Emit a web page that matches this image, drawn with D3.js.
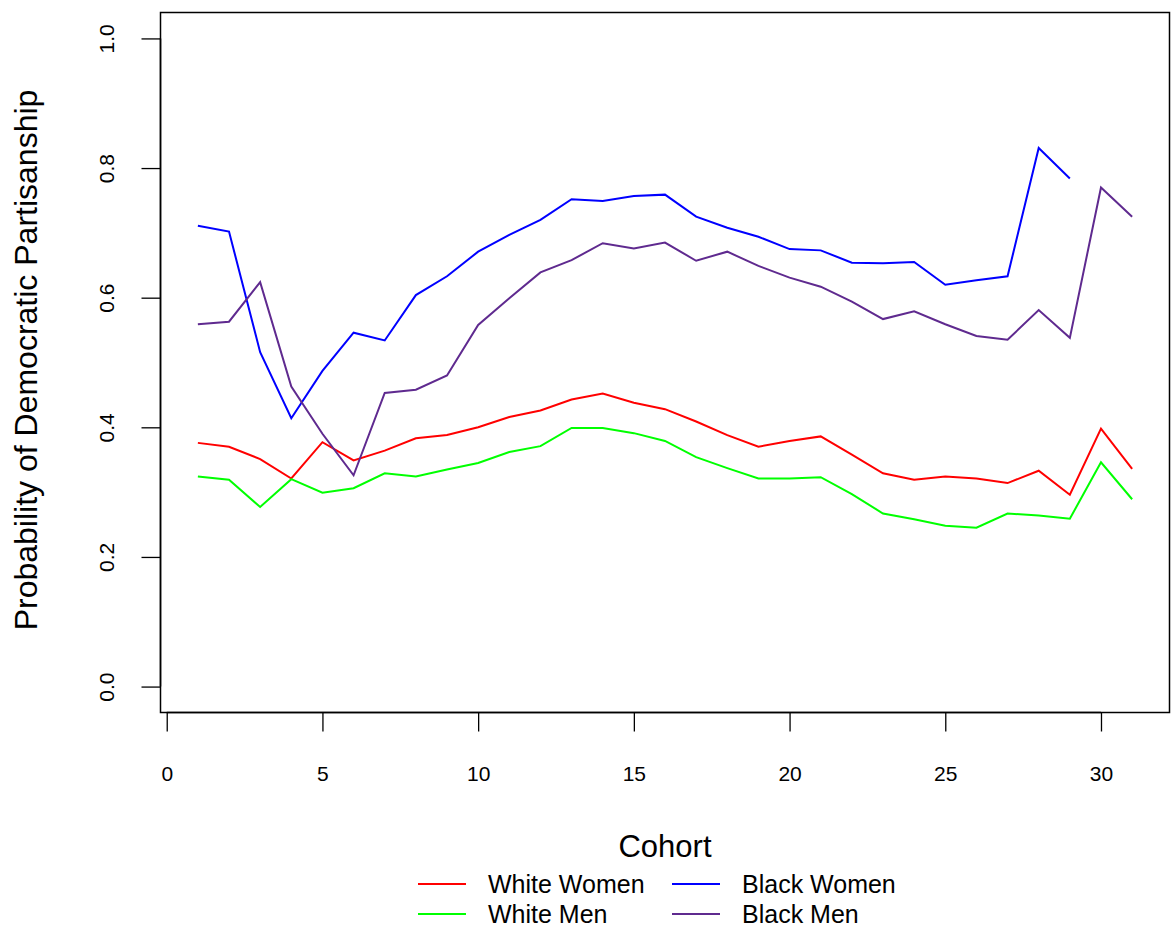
<!DOCTYPE html>
<meta charset="utf-8">
<style>
body { margin: 0; background: #fff; }
text { font-family: "Liberation Sans", Arial, sans-serif; fill: #000; }
.series { fill: none; stroke-width: 2px; stroke-linejoin: miter; }
</style>
<svg width="1176" height="933"></svg>
<script src="https://d3js.org/d3.v7.min.js"></script>
<script>
var cohorts = d3.range(1, 32);
var whiteWomen = [0.376, 0.370, 0.351, 0.321, 0.377, 0.349, 0.364, 0.383, 0.388, 0.400,
  0.416, 0.426, 0.443, 0.452, 0.438, 0.428, 0.409, 0.388, 0.370, 0.379,
  0.386, 0.358, 0.329, 0.319, 0.324, 0.321, 0.314, 0.333, 0.296, 0.398, 0.336];
var whiteMen = [0.324, 0.319, 0.277, 0.320, 0.299, 0.306, 0.329, 0.324, 0.335, 0.345,
  0.362, 0.371, 0.399, 0.399, 0.391, 0.379, 0.354, 0.337, 0.321, 0.321,
  0.323, 0.297, 0.267, 0.258, 0.248, 0.245, 0.267, 0.264, 0.259, 0.346, 0.289];
var blackWomen = [0.711, 0.702, 0.516, 0.414, 0.487, 0.546, 0.534, 0.604, 0.633, 0.671,
  0.697, 0.720, 0.752, 0.749, 0.757, 0.759, 0.725, 0.708, 0.694, 0.675,
  0.673, 0.654, 0.653, 0.655, 0.620, 0.627, 0.633, 0.831, 0.784, null, null];
var blackMen = [0.559, 0.563, 0.624, 0.463, 0.390, 0.326, 0.453, 0.458, 0.480, 0.558,
  0.599, 0.639, 0.658, 0.684, 0.676, 0.685, 0.657, 0.671, 0.649, 0.631,
  0.617, 0.594, 0.567, 0.579, 0.559, 0.541, 0.535, 0.581, 0.538, 0.770, 0.725];
var seriesNames = ["White Women", "White Men", "Black Women", "Black Men"];
var seriesColors = ["#ff0000", "#00ff00", "#0000ff", "#5f2a8f"];
var xTicks = [0, 5, 10, 15, 20, 25, 30];
var yTicks = [0, 0.2, 0.4, 0.6, 0.8, 1.0];

var svg = d3.select("svg");
var plotLeft = 160.5, plotRight = 1169.5, plotTop = 12.5, plotBottom = 712.5;

// R style: 4% padding round the data range
var x = d3.scaleLinear().domain([1 - 1.2, 31 + 1.2]).range([plotLeft, plotRight]);
var y = d3.scaleLinear().domain([0 - 0.04, 1 + 0.04]).range([plotBottom, plotTop]);

var all = [whiteWomen, whiteMen, blackWomen, blackMen];

var line = d3.line()
    .defined(function(d) { return d != null; })
    .x(function(d, i) { return x(cohorts[i]); })
    .y(function(d) { return y(d); });

svg.append("g").selectAll("path")
  .data(all)
  .enter().append("path")
    .attr("class", "series")
    .attr("stroke", function(d, i) { return seriesColors[i]; })
    .attr("d", line);

// box
svg.append("rect")
    .attr("x", plotLeft).attr("y", plotTop)
    .attr("width", plotRight - plotLeft).attr("height", plotBottom - plotTop)
    .attr("fill", "none").attr("stroke", "#000").attr("stroke-width", 1.5);

// x axis
var xAxis = svg.append("g").attr("transform", "translate(0," + plotBottom + ")")
    .call(d3.axisBottom(x).tickValues(xTicks).tickSize(19).tickFormat(d3.format("d")));
// y axis
var yAxis = svg.append("g").attr("transform", "translate(" + plotLeft + ",0)")
    .call(d3.axisLeft(y).tickValues(yTicks).tickSize(19).tickFormat(d3.format(".1f")));

[xAxis, yAxis].forEach(function(a) {
  a.selectAll("path.domain").attr("stroke", "#000").attr("stroke-width", 1.5);
  a.selectAll(".tick line").attr("stroke", "#000").attr("stroke-width", 1.3);
  a.selectAll("text").style("font-family", "Liberation Sans, Arial, sans-serif")
    .style("font-size", "21px").attr("fill", "#000");
});
xAxis.select("path.domain").attr("d", "M" + x(0) + ",0H" + x(30));
yAxis.select("path.domain").attr("d", "M0," + y(0) + "V" + y(1));
xAxis.selectAll(".tick text").attr("y", 61).attr("dy", "0.35em");
yAxis.selectAll(".tick text")
    .attr("x", 0).attr("y", 0).attr("dy", "0.35em")
    .attr("text-anchor", "middle")
    .attr("transform", "translate(-54,0) rotate(-90)");

// titles
svg.append("text")
    .attr("transform", "translate(37,360) rotate(-90)")
    .attr("text-anchor", "middle")
    .style("font-size", "32px")
    .text("Probability of Democratic Partisanship");
svg.append("text")
    .attr("x", 665).attr("y", 857)
    .attr("text-anchor", "middle")
    .style("font-size", "31px")
    .text("Cohort");

// legend, two columns
var legX = [418, 672], legY = [884, 914];
var leg = svg.append("g").selectAll("g")
  .data(seriesNames)
  .enter().append("g")
    .attr("transform", function(d, i) {
      return "translate(" + legX[Math.floor(i / 2)] + "," + legY[i % 2] + ")";
    });
leg.append("line")
    .attr("x1", 0).attr("x2", 48)
    .attr("stroke", function(d, i) { return seriesColors[i]; })
    .attr("stroke-width", 2);
leg.append("text")
    .attr("x", 70).attr("dy", "0.35em")
    .style("font-size", "25px")
    .text(function(d) { return d; });
</script>
